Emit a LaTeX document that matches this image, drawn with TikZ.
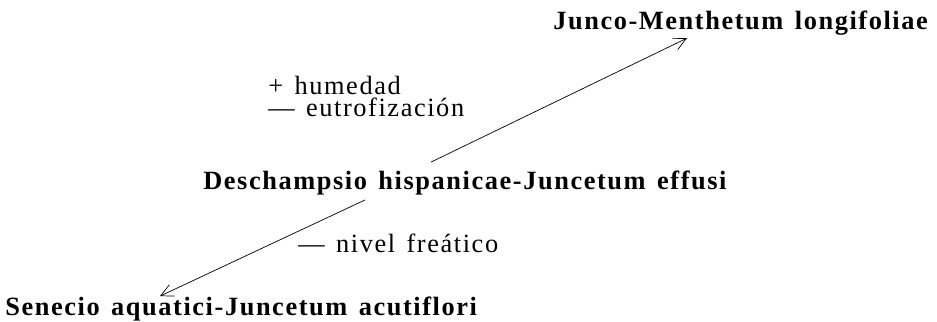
\documentclass[tikz,border=0pt]{standalone}
\usepackage{fontspec}
\setmainfont{Liberation Serif}
\newfontfamily\spacedfont[Ligatures=TeX,LetterSpace=6,WordSpace=1.4]{Liberation Serif}
\usetikzlibrary{arrows.meta}

\begin{document}
\begin{tikzpicture}[
	community/.style={
		inner sep=0pt,
		anchor=base west,
		font=\spacedfont\fontsize{15}{18}\selectfont\bfseries,
	},
	factor/.style={
		inner sep=0pt,
		anchor=base west,
		align=left,
		font=\spacedfont\fontsize{15}{12.5}\selectfont,
	},
	>={Straight Barb[length=2.5mm,width=2.5mm]},
	->,
	thin,
]
% fix the page size
\useasboundingbox (0,0) rectangle (18.74,-6.44);

\node (junco) [community] at (11.06,-0.60) {Junco-Menthetum longifoliae};
\node (deschampsio) [community] at (4.06,-3.78) {Deschampsio hispanicae-Juncetum effusi};
\node (senecio) [community] at (0.10,-6.30) {Senecio aquatici-Juncetum acutiflori};

\node (humedad) [factor, anchor=north west] at (5.36,-1.52) {+ humedad\\--- eutrofización};
\node (nivel) [factor] at (5.96,-5.04) {--- nivel freático};

\draw ([xshift=4.56cm,yshift=0.16cm]deschampsio.north west) -- ([xshift=2.68cm,yshift=-0.04cm]junco.south west);
\draw ([xshift=3.24cm,yshift=-0.1cm]deschampsio.south west) -- ([xshift=3.10cm]senecio.north west);
\end{tikzpicture}
\end{document}
